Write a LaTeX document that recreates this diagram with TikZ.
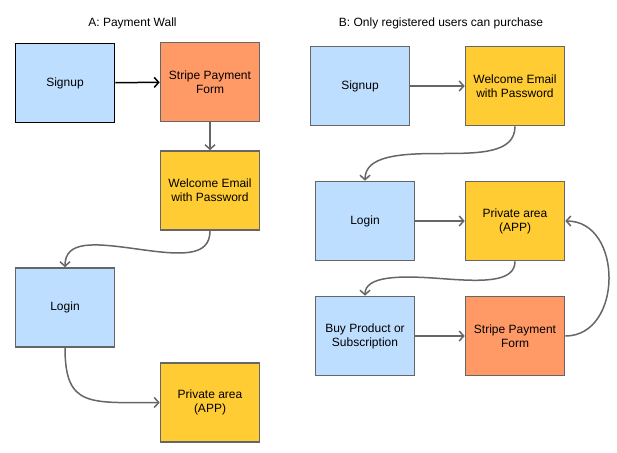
\documentclass[tikz,border=0pt]{standalone}
\usepackage{fontspec}
\setmainfont{Liberation Sans}
\usetikzlibrary{arrows.meta}
\definecolor{bluefill}{RGB}{190,222,255}
\definecolor{orangefill}{RGB}{255,153,102}
\definecolor{yellowfill}{RGB}{255,204,51}
\definecolor{edgegray}{RGB}{102,102,102}
\tikzset{
  box/.style={draw=edgegray, line width=1.6pt, minimum width=99pt, minimum height=79pt,
    inner sep=0pt, align=center, font=\fontsize{12}{14}\selectfont},
  bluebox/.style={box, fill=bluefill},
  orangebox/.style={box, fill=orangefill},
  yellowbox/.style={box, fill=yellowfill},
  conn/.style={draw=edgegray, line width=1.5pt, -{Straight Barb[length=4.5pt,width=10pt,line width=1.5pt]}},
  title/.style={font=\fontsize{12}{14}\selectfont}
}
\begin{document}
\begin{tikzpicture}[x=1pt,y=-1pt]
\useasboundingbox (0,0) rectangle (617,452);
% titles
\node[title] (tA) at (132.5,23) {A: Payment Wall};
\node[title] (tB) at (441,23) {B: Only registered users can purchase};
% column A
\node[bluebox, draw=black, line width=1.9pt] (signA) at (65,83) {Signup};
\node[orangebox] (stripeA) at (210,82) {Stripe Payment\\Form};
\node[yellowbox] (welA) at (210,190.5) {Welcome Email\\with Password};
\node[bluebox] (loginA) at (65,307.5) {Login};
\node[yellowbox] (privA) at (210,402.5) {Private area\\(APP)};
% column B
\node[bluebox] (signB) at (360,86) {Signup};
\node[yellowbox] (welB) at (515,86) {Welcome Email\\with Password};
\node[bluebox] (loginB) at (365,221) {Login};
\node[yellowbox] (privB) at (515,221) {Private area\\(APP)};
\node[bluebox] (buyB) at (365,336) {Buy Product or\\Subscription};
\node[orangebox] (stripeB) at (515,336) {Stripe Payment\\Form};
% mid coordinates for S-curves
\coordinate (mA) at (137,249);
\coordinate (mB1) at (440,153.5);
\coordinate (mB2) at (440,278.5);
% connectors A
\draw[conn, draw=black, -{Straight Barb[length=4.5pt,width=10pt,line width=1.5pt]}] (signA) -- (stripeA);
\draw[conn] (stripeA) -- (welA);
\draw[conn] (welA.south) .. controls +(0,27) and +(43,6) .. (mA) .. controls +(-43,-6) and +(0,-27) .. (loginA.north);
\draw[conn] (loginA.south) .. controls +(0,60) and +(-70,0) .. (privA.west);
% connectors B
\draw[conn] (signB) -- (welB);
\draw[conn] (welB.south) .. controls +(0,27) and +(40,0) .. (mB1) .. controls +(-40,0) and +(0,-25) .. (loginB.north);
\draw[conn] (loginB) -- (privB);
\draw[conn] (privB.south) .. controls +(0,22) and +(40,3) .. (mB2) .. controls +(-40,-3) and +(0,-20) .. (buyB.north);
\draw[conn] (buyB) -- (stripeB);
\draw[conn] (stripeB.east) .. controls +(58,0) and +(58,0) .. (privB.east);
\end{tikzpicture}
\end{document}
